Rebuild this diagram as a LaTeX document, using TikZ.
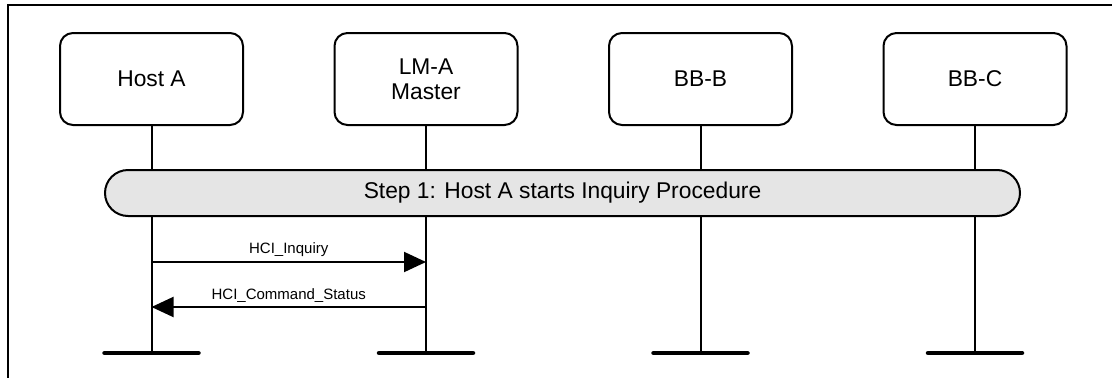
\documentclass[tikz,border=0pt]{standalone}
\usepackage{fontspec}
\setmainfont{Liberation Sans}
\usetikzlibrary{arrows.meta, positioning}

\begin{document}
\begin{tikzpicture}[
    x=1pt, y=-1pt,
    node distance=89.5pt,
    entity/.style={
        rectangle,
        draw,
        line width=2pt,
        rounded corners=13pt,
        align=center,
        minimum width=183pt,
        minimum height=92pt,
        font=\fontsize{22.8}{25}\selectfont
    },
    phase/.style={
        rectangle,
        draw,
        line width=2pt,
        rounded corners=23pt,
        fill=black!10,
        minimum width=915pt,
        minimum height=46pt,
        font=\fontsize{22.8}{25}\selectfont
    },
    lifeline/.style={line width=2pt},
    endbar/.style={line width=4.5pt, line cap=round},
    msg/.style={-{Triangle[length=22pt, width=20pt]}, line width=2pt},
    msglabel/.style={above=4pt, inner sep=0pt, font=\fontsize{15}{17}\selectfont}
]
\useasboundingbox (0,0) rectangle (1112,378);

% frame
\draw[line width=2.5pt] (1112,5) -- (8,5) -- (8,378);

% entities
\node[entity] (hostA) at (151.5,79) {Host A};
\node[entity, right=of hostA] (lmA) {LM-A\\Master};
\node[entity, right=of lmA] (bbB) {BB-B};
\node[entity, right=of bbB] (bbC) {BB-C};

% lifelines
\foreach \e in {hostA, lmA, bbB, bbC} {
    \coordinate (\e-end) at (\e.south |- 0,353);
    \draw[lifeline] (\e.south) -- (\e-end);
    \draw[endbar] ([xshift=-47pt]\e-end) -- ([xshift=47pt]\e-end);
}

% step 1
\node[phase] (step1) at (562.5,193) {Step 1: Host A starts Inquiry Procedure};

% messages
\coordinate (hostA-m1) at (hostA.south |- 0,262);
\coordinate (lmA-m1) at (lmA.south |- 0,262);
\coordinate (hostA-m2) at (hostA.south |- 0,307);
\coordinate (lmA-m2) at (lmA.south |- 0,307);

\draw[msg] (hostA-m1) -- (lmA-m1) node[midway, msglabel] {HCI\_Inquiry};
\draw[msg] (lmA-m2) -- (hostA-m2) node[midway, msglabel] {HCI\_Command\_Status};

\end{tikzpicture}
\end{document}
